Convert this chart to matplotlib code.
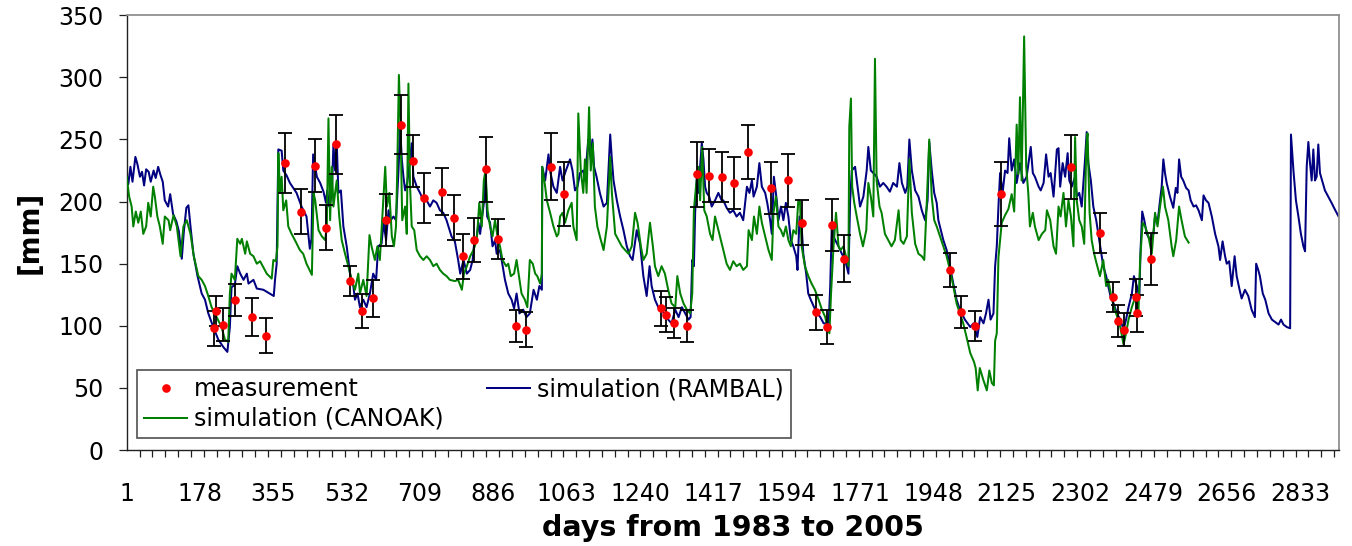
import matplotlib
matplotlib.use("Agg")
import matplotlib.pyplot as plt

# ---- measured soil water content (day index, mm, error) ----
meas_day = [212, 216, 233, 262, 304, 337, 383, 422, 456, 481, 506, 540, 570, 595,
            627, 662, 691, 719, 763, 792, 813, 839, 868, 898, 940, 965, 1024, 1057,
            1290, 1302, 1323, 1353, 1378, 1407, 1439, 1467, 1501, 1555, 1597, 1631,
            1665, 1691, 1703, 1732, 1988, 2014, 2049, 2111, 2280, 2350, 2381, 2393,
            2407, 2436, 2439, 2473]
meas_val = [98, 112, 101, 121, 107, 92, 231, 192, 229, 179, 246, 136, 112, 122,
            185, 262, 233, 203, 208, 187, 156, 169, 226, 170, 100, 97, 228, 206,
            114, 109, 102, 100, 222, 221, 220, 215, 240, 211, 217, 183,
            111, 99, 181, 154, 145, 111, 100, 206, 228, 175, 123, 104,
            97, 123, 110, 154]
meas_err = [14, 12, 13, 13, 15, 14, 24, 18, 21, 18, 24, 12, 14, 15,
            21, 24, 21, 20, 19, 18, 18, 18, 26, 16, 13, 14, 27, 26,
            14, 14, 12, 13, 26, 21, 20, 21, 22, 21, 21, 18,
            14, 14, 21, 19, 14, 13, 12, 26, 26, 16, 12, 13,
            13, 15, 15, 21]

# ---- RAMBAL simulation ----
rambal_day = [1, 5, 10, 15, 22, 27, 33, 38, 43, 48, 54, 59, 66, 71, 77, 82, 88, 93, 101, 106,
              113, 121, 127, 134, 139, 145, 150, 155, 162, 172, 182, 190, 198, 210, 222, 234,
              244, 250, 254, 262, 268, 275, 283, 291, 295, 307, 315, 331, 351, 356, 359, 363,
              367, 375, 379, 387, 395, 403, 411, 423, 435, 443, 447, 451, 460, 468, 476, 482,
              485, 490, 496, 500, 504, 508, 512, 518, 524, 532, 540, 548, 552, 558, 564, 572,
              580, 588, 596, 603, 608, 616, 621, 627, 633, 638, 645, 651, 657, 661, 665, 669,
              673, 678, 685, 689, 693, 701, 709, 717, 725, 733, 741, 749, 757, 765, 773, 785,
              793, 801, 806, 814, 822, 830, 836, 839, 846, 850, 854, 858, 863, 867, 871, 878,
              884, 890, 894, 902, 906, 914, 922, 930, 936, 942, 949, 958, 966, 974, 983, 991,
              997, 1003, 1004, 1011, 1019, 1024, 1031, 1039, 1047, 1053, 1061, 1071, 1077,
              1083, 1089, 1095, 1103, 1107, 1115, 1121, 1125, 1129, 1135, 1143, 1152, 1160,
              1168, 1172, 1176, 1184, 1192, 1200, 1208, 1216, 1222, 1232, 1240, 1248, 1256,
              1263, 1268, 1276, 1284, 1292, 1300, 1308, 1316, 1325, 1333, 1341, 1349, 1357,
              1362, 1366, 1370, 1373, 1377, 1381, 1385, 1389, 1393, 1397, 1401, 1407, 1413,
              1421, 1429, 1437, 1441, 1449, 1457, 1465, 1473, 1481, 1489, 1498, 1504, 1510,
              1514, 1522, 1528, 1534, 1542, 1547, 1554, 1558, 1563, 1570, 1574, 1580, 1586,
              1592, 1598, 1604, 1610, 1617, 1620, 1625, 1630, 1634, 1641, 1646, 1652, 1660,
              1668, 1675, 1683, 1689, 1695, 1699, 1703, 1707, 1711, 1719, 1727, 1735, 1743,
              1747, 1751, 1759, 1767, 1771, 1779, 1787, 1791, 1797, 1803, 1811, 1819, 1827,
              1835, 1843, 1851, 1860, 1866, 1872, 1880, 1885, 1890, 1896, 1904, 1912, 1920,
              1928, 1934, 1938, 1944, 1950, 1956, 1960, 1966, 1972, 1980, 1988, 1996, 2004,
              2012, 2024, 2037, 2045, 2054, 2061, 2069, 2075, 2081, 2086, 2093, 2097, 2101,
              2105, 2109, 2115, 2121, 2127, 2131, 2137, 2143, 2149, 2157, 2165, 2173, 2183,
              2188, 2193, 2202, 2207, 2214, 2220, 2226, 2231, 2238, 2246, 2250, 2254, 2260,
              2266, 2272, 2276, 2282, 2290, 2294, 2300, 2306, 2314, 2318, 2322, 2328, 2334,
              2341, 2346, 2352, 2358, 2365, 2370, 2376, 2383, 2391, 2399, 2407, 2413, 2419,
              2427, 2432, 2439, 2445, 2448, 2452, 2457, 2463, 2471, 2479, 2483, 2489, 2495,
              2499, 2503, 2507, 2511, 2519, 2527, 2533, 2537, 2541, 2546, 2551, 2558, 2564,
              2569, 2576, 2582, 2588, 2596, 2600, 2606, 2612, 2620, 2628, 2636, 2640, 2646,
              2652, 2656, 2662, 2668, 2675, 2680, 2687, 2692, 2700, 2708, 2716, 2724, 2727,
              2732, 2736, 2743, 2749, 2757, 2765, 2773, 2781, 2787, 2793, 2801, 2809, 2811,
              2817, 2823, 2829, 2835, 2841, 2845, 2849, 2853, 2857, 2861, 2865, 2869, 2873,
              2877, 2881, 2888, 2893, 2901, 2909, 2918, 2926]
rambal_val = [222, 214, 228, 216, 236, 230, 220, 224, 213, 226, 224, 216, 225, 219, 228, 222, 216, 201, 196, 206,
              190, 184, 176, 154, 176, 195, 197, 180, 158, 140, 126, 121, 110, 99, 89, 83,
              79, 99, 131, 133, 148, 142, 137, 142, 134, 137, 130, 129, 125, 124, 137, 150,
              242, 241, 225, 221, 215, 211, 207, 196, 188, 162, 170, 238, 220, 215, 208, 199,
              209, 196, 205, 246, 225, 247, 207, 209, 180, 164, 142, 132, 121, 126, 115, 121,
              115, 126, 142, 137, 164, 166, 183, 169, 193, 185, 188, 185, 225, 260, 234, 220,
              209, 215, 234, 247, 220, 212, 207, 201, 201, 196, 201, 199, 193, 191, 185, 172,
              168, 153, 142, 153, 142, 145, 153, 164, 172, 183, 174, 185, 199, 223, 188, 183,
              164, 169, 158, 161, 153, 137, 126, 121, 114, 126, 110, 113, 107, 110, 129, 121,
              132, 129, 228, 217, 238, 223, 212, 207, 228, 217, 225, 234, 225,
              209, 212, 223, 225, 217, 250, 234, 250, 228, 220, 207, 196, 199,
              254, 234, 217, 201, 188, 177, 164, 156, 153, 177, 166, 140, 124,
              148, 132, 121, 115, 115, 107, 105, 102, 113, 107, 115, 110, 105,
              107, 153, 148, 191, 220, 207, 228, 247, 234, 212, 207, 204, 196,
              201, 207, 201, 201, 195, 191, 193, 188, 191, 185, 212, 207, 217,
              204, 212, 231, 212, 207, 199, 185, 174, 220, 201, 185, 196, 185,
              199, 188, 169, 164, 156, 145, 188, 180, 158, 142, 126, 121, 115,
              110, 107, 102, 102, 99, 132, 183, 172, 169, 164, 158, 153, 142,
              200, 225, 228, 207, 196, 204, 225, 244, 225, 223, 220, 212, 215,
              212, 208, 215, 212, 231, 215, 207, 212, 250, 225, 209, 204, 193,
              185, 201, 248, 225, 207, 199, 185, 177, 169, 161, 148, 134, 121,
              113, 105, 99, 102, 91, 107, 102, 110, 121, 105, 110, 148, 164,
              196, 223, 207, 225, 223, 251, 225, 234, 215, 231, 215, 220, 244,
              223, 220, 212, 209, 215, 238, 220, 223, 204, 242, 243, 212, 231,
              220, 239, 217, 212, 220, 204, 207, 196, 234, 256, 231, 217, 196,
              185, 174, 161, 148, 140, 132, 123, 118, 110, 105, 97, 105, 115,
              126, 140, 132, 123, 161, 192, 185, 174, 169, 174, 188, 183, 201,
              212, 234, 223, 215, 204, 195, 211, 207, 234, 220, 217, 211, 209,
              201, 196, 197, 193, 185, 205, 201, 199, 188, 174, 164, 153, 168,
              156, 150, 152, 132, 156, 140, 129, 122, 129, 124, 113, 107, 150,
              145, 140, 126, 121, 110, 105, 103, 101, 105, 101, 99, 98, 254,
              225, 201, 188, 174, 164, 160, 228, 248, 231, 217, 242, 217, 220,
              246, 223, 215, 209, 204, 199, 193, 188]

# ---- CANOAK simulation ----
canoak_day = [1, 7, 13, 17, 23, 29, 35, 41, 48, 53, 59, 65, 69, 75, 81, 88, 93, 102, 106, 114,
              122, 131, 138, 146, 155, 163, 174, 182, 190, 196, 206, 218, 230, 238, 246, 250,
              254, 262, 268, 275, 279, 287, 291, 299, 307, 315, 323, 339, 351, 355, 361, 365,
              367, 371, 375, 379, 386, 391, 399, 407, 419, 427, 435, 448, 452, 456, 464, 472,
              480, 484, 488, 492, 496, 500, 504, 508, 514, 520, 528, 536, 544, 552, 560, 564,
              572, 580, 587, 592, 600, 606, 612, 625, 629, 635, 641, 646, 651, 654, 658, 662,
              666, 673, 677, 681, 685, 689, 695, 701, 709, 717, 725, 733, 741, 749, 757, 765,
              773, 781, 793, 801, 810, 815, 822, 830, 838, 846, 852, 858, 863, 867, 872, 878,
              884, 890, 896, 902, 908, 917, 922, 928, 936, 942, 949, 954, 962, 968, 974, 981,
              987, 992, 999, 1003, 1004, 1011, 1015, 1023, 1031, 1039, 1043, 1047, 1053, 1059,
              1067, 1075, 1079, 1087, 1091, 1097, 1103, 1107, 1111, 1117, 1121, 1126, 1131,
              1137, 1143, 1152, 1160, 1168, 1172, 1180, 1188, 1196, 1204, 1212, 1220, 1228,
              1234, 1242, 1248, 1256, 1264, 1271, 1276, 1284, 1292, 1300, 1308, 1316, 1325,
              1330, 1337, 1345, 1353, 1361, 1366, 1370, 1375, 1381, 1385, 1390, 1395, 1401,
              1409, 1415, 1421, 1427, 1433, 1441, 1449, 1457, 1465, 1473, 1481, 1489, 1498,
              1502, 1510, 1515, 1522, 1528, 1534, 1542, 1550, 1558, 1562, 1568, 1574, 1580,
              1586, 1592, 1598, 1604, 1610, 1617, 1622, 1626, 1630, 1638, 1646, 1654, 1662,
              1671, 1679, 1687, 1692, 1697, 1701, 1707, 1713, 1719, 1724, 1731, 1737, 1743,
              1745, 1749, 1752, 1757, 1763, 1771, 1778, 1786, 1791, 1797, 1803, 1807, 1811,
              1818, 1823, 1831, 1839, 1847, 1855, 1864, 1869, 1876, 1884, 1890, 1896, 1904,
              1912, 1920, 1926, 1932, 1938, 1944, 1950, 1956, 1964, 1972, 1980, 1988, 1996,
              2004, 2012, 2020, 2028, 2037, 2046, 2050, 2055, 2060, 2068, 2077, 2083, 2089,
              2094, 2097, 2101, 2105, 2113, 2121, 2129, 2137, 2143, 2149, 2153, 2157, 2161,
              2167, 2172, 2177, 2181, 2188, 2193, 2202, 2210, 2218, 2222, 2230, 2238, 2244,
              2250, 2255, 2262, 2268, 2274, 2280, 2286, 2290, 2294, 2300, 2306, 2312, 2317,
              2320, 2325, 2330, 2336, 2342, 2350, 2358, 2365, 2370, 2376, 2384, 2392, 2399,
              2407, 2413, 2419, 2427, 2435, 2443, 2447, 2453, 2459, 2467, 2475, 2483, 2489,
              2495, 2502, 2507, 2515, 2523, 2527, 2534, 2541, 2547, 2555, 2564]
canoak_val = [220, 204, 196, 180, 192, 183, 192, 174, 180, 199, 188, 212, 204, 188, 180, 166, 188, 185, 177, 189,
              180, 156, 180, 185, 174, 156, 140, 137, 132, 126, 115, 107, 99, 89, 87, 126,
              142, 137, 170, 166, 170, 158, 168, 158, 156, 150, 152, 142, 138, 153, 152, 164,
              239, 207, 220, 193, 201, 180, 174, 169, 161, 158, 150, 141, 207, 201, 177, 172,
              169, 180, 267, 185, 228, 196, 207, 217, 188, 169, 158, 148, 137, 129, 142, 126,
              137, 124, 173, 164, 153, 164, 153, 228, 196, 207, 172, 164, 180, 225, 302, 260,
              185, 196, 174, 295, 212, 180, 177, 161, 156, 153, 156, 153, 148, 150, 145, 142,
              140, 137, 136, 137, 129, 142, 148, 156, 161, 169, 199, 180, 217, 225, 193, 180,
              172, 185, 172, 164, 153, 148, 150, 140, 142, 153, 137, 126, 121, 115, 153, 150,
              142, 140, 134, 142, 228, 212, 201, 191, 180, 172, 174, 188, 191, 183,
              193, 199, 180, 169, 271, 225, 207, 234, 207, 276, 225, 247, 196,
              180, 172, 161, 180, 236, 207, 174, 169, 164, 161, 158, 164, 191,
              183, 164, 153, 158, 183, 164, 148, 140, 148, 142, 129, 118, 115,
              140, 126, 118, 113, 110, 126, 193, 212, 228, 201, 244, 193, 188,
              174, 169, 188, 180, 172, 161, 150, 145, 152, 148, 150, 145, 148,
              177, 169, 188, 174, 196, 183, 172, 161, 153, 191, 204, 180, 177,
              172, 180, 169, 164, 177, 174, 201, 201, 164, 148, 140, 134, 129,
              121, 113, 107, 99, 94, 126, 164, 191, 164, 161, 164, 156, 148,
              260, 283, 212, 199, 188, 174, 164, 177, 215, 204, 188, 315, 217,
              196, 191, 174, 169, 164, 169, 193, 169, 166, 172, 234, 191, 166,
              158, 156, 153, 199, 250, 204, 185, 180, 172, 164, 156, 145, 132,
              118, 110, 102, 91, 78, 71, 66, 48, 66, 57, 48, 64, 54,
              52, 88, 94, 155, 183, 189, 194, 206, 192, 262, 222, 284, 217,
              333, 228, 207, 180, 191, 180, 169, 174, 177, 193, 185, 164, 158,
              196, 188, 207, 180, 201, 188, 164, 252, 201, 185, 180, 166, 244,
              255, 191, 169, 158, 150, 140, 153, 132, 137, 126, 115, 107, 99,
              85, 94, 105, 115, 123, 113, 153, 183, 180, 172, 158, 191, 180,
              196, 212, 196, 185, 164, 156, 169, 196, 185, 172, 167]

# ---- axis labelling ----
x_label_days = [1, 178, 355, 532, 709, 886, 1063, 1240, 1417, 1594, 1771, 1948,
                2125, 2302, 2479, 2656, 2833]
x_minor_days = list(range(1, 2927, 31))
y_ticks = [0, 50, 100, 150, 200, 250, 300, 350]

NAVY = "#000080"
GREEN = "#008000"
RED = "#FF0000"

fig = plt.figure(figsize=(13.52, 5.46), dpi=100)
ax = fig.add_axes([0.0937, 0.1758, 0.8967, 0.7962])

ln_rambal, = ax.plot(rambal_day, rambal_val, color=NAVY, lw=1.45,
                     label="simulation (RAMBAL)", zorder=2)
ln_canoak, = ax.plot(canoak_day, canoak_val, color=GREEN, lw=1.45,
                     label="simulation (CANOAK)", zorder=3)
ax.errorbar(meas_day, meas_val, yerr=meas_err, fmt="none", ecolor="black",
            elinewidth=1.3, capsize=5, capthick=1.3, zorder=4)
ln_meas, = ax.plot(meas_day, meas_val, "o", color=RED, ms=6.2, mec="none",
                   label="measurement", zorder=5)

ax.set_xlim(1, 2927)
ax.set_ylim(0, 350)

ax.set_xticks(x_label_days)
ax.set_xticklabels([str(d) for d in x_label_days])
ax.set_xticks(x_minor_days, minor=True)
ax.tick_params(axis="x", which="major", length=0, pad=23, labelsize=17)
ax.tick_params(axis="x", which="minor", length=5, width=0.9, direction="out",
               color="#202020")
ax.set_yticks(y_ticks)
ax.tick_params(axis="y", which="major", length=6, width=0.9, direction="out",
               pad=11, labelsize=17, color="#202020")

for side in ("top", "right"):
    ax.spines[side].set_color("#909090")
    ax.spines[side].set_linewidth(1.3)
for side in ("left", "bottom"):
    ax.spines[side].set_color("#202020")
    ax.spines[side].set_linewidth(1.0)

ax.set_xlabel("days from 1983 to 2005", fontsize=20.5, fontweight="bold")
ax.xaxis.label.set_va("center")
ax.xaxis.set_label_coords(0.5, -0.18)
ax.set_ylabel("[mm]", fontsize=20, fontweight="bold")
ax.yaxis.label.set_va("center")
ax.yaxis.set_label_coords(-0.0798, 0.5)

leg = ax.legend(handles=[ln_meas, ln_canoak, ln_rambal], ncol=2,
                loc="lower left", bbox_to_anchor=(0.0087, 0.0276, 0.539, 0.166),
                mode="expand", borderaxespad=0, fontsize=17, handlelength=1.8,
                handletextpad=0.3, borderpad=0.3, labelspacing=0.25,
                fancybox=False, edgecolor="#505050", framealpha=1)
leg.get_frame().set_linewidth(1.2)

fig.savefig("out.png", dpi=100)
